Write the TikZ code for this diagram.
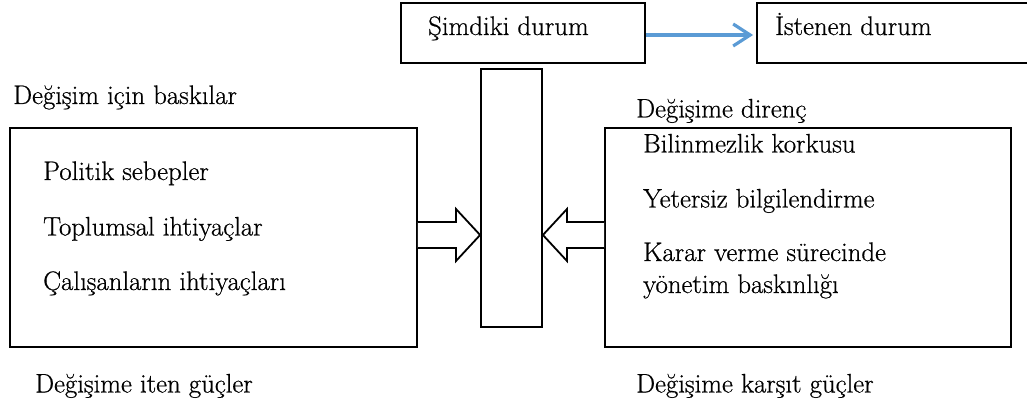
\documentclass[tikz,border=0pt]{standalone}
\usepackage{fontspec}
\setmainfont{Latin Modern Roman}[UprightFeatures={FakeBold=0.6}]
\usetikzlibrary{arrows.meta}
\definecolor{flowblue}{HTML}{5B9BD5}
\begin{document}
\begin{tikzpicture}[x=1pt,y=-1pt,
  box/.style={draw=black,line width=1.8pt,minimum width=#1,inner sep=0pt},
  txt/.style={anchor=base west,inner sep=0pt,font=\rmfamily\fontsize{26.8}{30}\selectfont},
  blockarrow/.style={draw=black,line width=1.8pt,line join=miter,fill=white},
  flow/.style={draw=flowblue,line width=3.2pt,-{Straight Barb[length=17pt,width=22pt,line width=3.2pt]},shorten >=3pt}]
  \useasboundingbox (0,0) rectangle (1027,414);
  \clip (0,0) rectangle (1027,414);

  % top row: present and desired state
  \node[box=244pt,minimum height=60pt] (now)  at (523,33) {};
  \node[box=278pt,minimum height=60pt] (goal) at (896,33) {};
  \node[txt] (nowt)  at (428,35) {Şimdiki durum};
  \node[txt] (goalt) at (775,35) {İstenen durum};
  \draw[flow] ([yshift=-2pt]now.east) -- ([yshift=-2pt]goal.west);

  % central bar and the two force boxes
  \node[box=61pt,minimum height=258pt]  (mid)   at (511.5,198) {};
  \node[box=407pt,minimum height=219pt] (left)  at (213.5,237.5) {};
  \node[box=406pt,minimum height=219pt] (right) at (808,237.5) {};

  % block arrows pushing on the central bar
  \draw[blockarrow] (left.east |- 0,222) -- (456,222) -- (456,209)
    -- (mid.west |- 0,235) -- (456,261) -- (456,248) -- (left.east |- 0,248);
  \draw[blockarrow] (right.west |- 0,222) -- (567,222) -- (567,209)
    -- (mid.east |- 0,235) -- (567,261) -- (567,248) -- (right.west |- 0,248);

  % driving forces
  \node[txt] (lhead) at (13,104)  {Değişim için baskılar};
  \node[txt] (l1)    at (43,180)  {Politik sebepler};
  \node[txt] (l2)    at (43,235.5){Toplumsal ihtiyaçlar};
  \node[txt] (l3)    at (43,290)  {Çalışanların ihtiyaçları};
  \node[txt] (lfoot) at (35,392.5){Değişime iten güçler};

  % restraining forces
  \node[txt] (rhead) at (636,117.5){Değişime direnç};
  \node[txt] (r1)    at (643,152.5){Bilinmezlik korkusu};
  \node[txt] (r2)    at (643,207.5){Yetersiz bilgilendirme};
  \node[txt] (r3)    at (643,261)  {Karar verme sürecinde};
  \node[txt] (r4)    at (643,293)  {yönetim baskınlığı};
  \node[txt] (rfoot) at (636,392.5){Değişime karşıt güçler};
\end{tikzpicture}
\end{document}
